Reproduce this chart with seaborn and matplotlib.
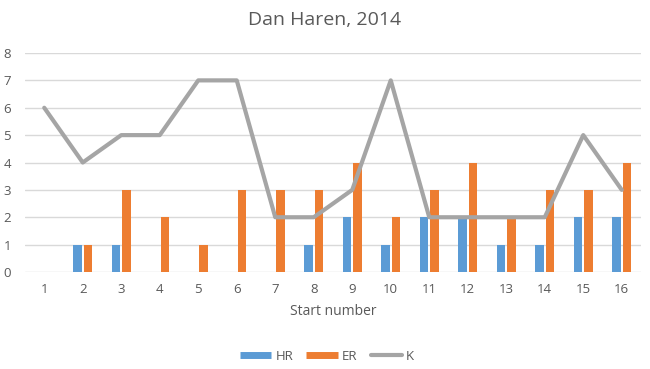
import matplotlib
matplotlib.use("Agg")
import matplotlib.pyplot as plt
from matplotlib.lines import Line2D
import seaborn as sns
import numpy as np
import pandas as pd

starts = list(range(1, 17))
hr = [0, 1, 1, 0, 0, 0, 0, 1, 2, 1, 2, 2, 1, 1, 2, 2]
er = [0, 1, 3, 2, 1, 3, 3, 3, 4, 2, 3, 4, 2, 3, 3, 4]
k = [6, 4, 5, 5, 7, 7, 2, 2, 3, 7, 2, 2, 2, 2, 5, 3]
y_ticks = list(range(0, 9))

sns.set_theme(style="white")
plt.rcParams['font.family'] = ['Open Sans', 'DejaVu Sans']
txt = "#595959"
c_hr, c_er, c_k = "#5B9BD5", "#ED7D31", "#A5A5A5"

df = pd.DataFrame({
    "Start": [str(s) for s in starts] * 2,
    "Value": hr + er,
    "Stat": ["HR"] * len(starts) + ["ER"] * len(starts),
})

fig = plt.figure(figsize=(6.5, 3.69), dpi=100)
ax = fig.add_axes([25/650, (369-272)/369, (641-25)/650, (272-53)/369])

sns.barplot(data=df, x="Start", y="Value", hue="Stat", palette=[c_hr, c_er],
            width=0.56, gap=0.2, dodge=True, ax=ax, legend=False, saturation=1,
            linewidth=0)
sns.lineplot(x=np.arange(len(starts)), y=k, color=c_k, linewidth=3.0, ax=ax,
             legend=False)

ax.set_ylim(0, 8)
ax.set_xlim(-0.5, len(starts) - 0.5)
ax.set_yticks(y_ticks)
ax.yaxis.grid(True, color="#D9D9D9", linewidth=1.0)
ax.set_axisbelow(True)
for s in ax.spines.values():
    s.set_visible(False)
ax.tick_params(axis="both", length=0, labelsize=9.5, colors=txt)
ax.tick_params(axis="y", pad=10)
ax.tick_params(axis="x", pad=8)
ax.set_xlabel("Start number", fontsize=10, color=txt, labelpad=6)
ax.set_ylabel("")

fig.text(0.5, 1 - 20/369, "Dan Haren, 2014", ha="center", va="center",
         fontsize=14, color=txt)

handles = [Line2D([], [], color=c_hr, lw=5, solid_capstyle="butt"),
           Line2D([], [], color=c_er, lw=5, solid_capstyle="butt"),
           Line2D([], [], color=c_k, lw=3, solid_capstyle="round")]
fig.legend(handles, ["HR", "ER", "K"], loc="center", bbox_to_anchor=(0.503, 1 - 356/369),
           ncol=3, frameon=False, fontsize=9.5, labelcolor=txt, handlelength=2.4,
           columnspacing=1.0, handletextpad=0.3)

fig.savefig("out.png", dpi=100)
